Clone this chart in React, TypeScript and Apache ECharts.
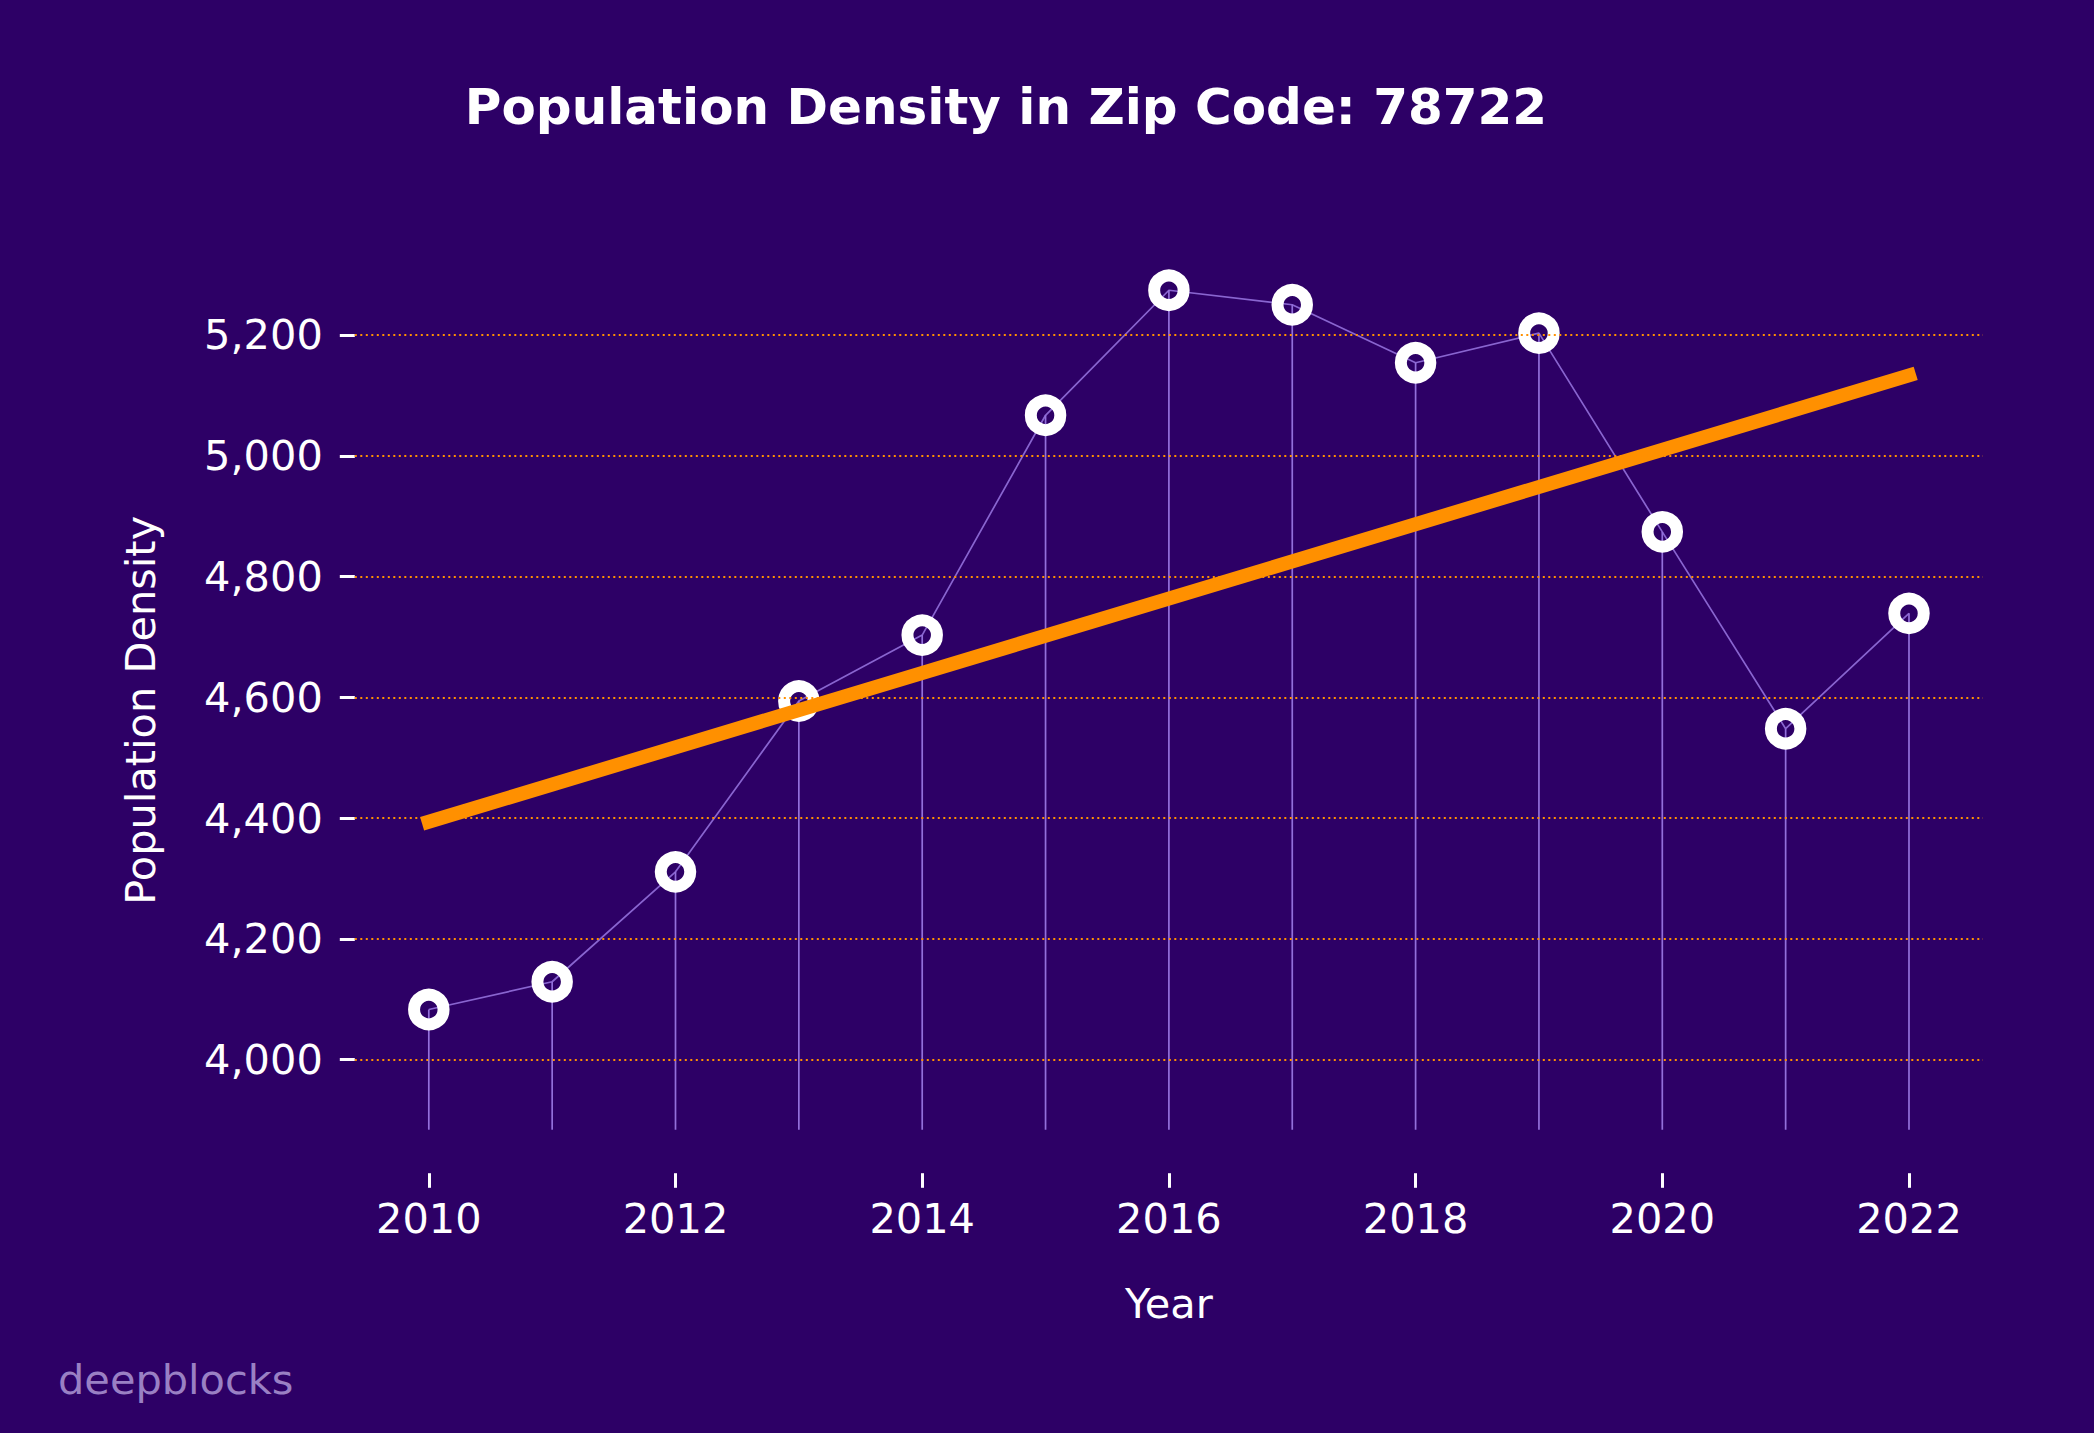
import React, { useEffect, useRef } from "react";
import * as echarts from "echarts";

const years = [2010, 2011, 2012, 2013, 2014, 2015, 2016, 2017, 2018, 2019, 2020, 2021, 2022];
const density = [4083, 4129, 4311, 4594, 4703, 5067, 5274, 5250, 5154, 5203, 4874, 4548, 4739];
const trendYears = [2010, 2022];
const trendValues = [4394, 5133];
const stemBase = 3884;
const xTicks = [2010, 2012, 2014, 2016, 2018, 2020, 2022];
const yTicks = [4000, 4200, 4400, 4600, 4800, 5000, 5200];
const xRange = [2009.4, 2022.6];
const yRange = [3812, 5345];

const BG = "#2d0066";
const ORANGE = "#ff9000";
const PURPLE = "#9370DB";
const FONT = "DejaVu Sans";

export default function App() {
  const ref = useRef<HTMLDivElement>(null);
  useEffect(() => {
    document.body.style.margin = "0";
    const chart = echarts.init(ref.current!, null, { renderer: "svg" });
    const points = years.map((y, i) => [y, density[i]]);
    const trend = trendYears.map((y, i) => [y, trendValues[i]]);
    const option: any = {
      animation: false,
      backgroundColor: BG,
      title: {
        text: "Population Density in Zip Code: 78722",
        left: 1006,
        top: 81.5,
        textAlign: "center",
        padding: 0,
        textStyle: { color: "#ffffff", fontSize: 50, fontWeight: "bold", fontFamily: FONT, lineHeight: 50 },
      },
      grid: { left: 354.8, top: 247.4, width: 1628.2, height: 925.8, containLabel: false, outerBoundsMode: "none" },
      xAxis: {
        type: "value",
        min: xRange[0],
        max: xRange[1],
        name: "Year",
        nameLocation: "middle",
        nameGap: 110,
        nameTextStyle: { color: "#ffffff", fontSize: 41.5, fontFamily: FONT, lineHeight: 41.5 },
        axisLine: { show: false },
        splitLine: { show: false },
        axisTick: { show: true, length: 14.6, lineStyle: { color: "#ffffff", width: 3 }, customValues: xTicks },
        axisLabel: {
          customValues: xTicks,
          margin: 25,
          color: "#ffffff",
          fontSize: 41.5,
          lineHeight: 41.5,
          fontFamily: FONT,
          formatter: (v: number) => String(v),
        },
      },
      yAxis: {
        type: "value",
        min: yRange[0],
        max: yRange[1],
        name: "Population Density",
        nameLocation: "middle",
        nameGap: 194,
        nameTextStyle: { color: "#ffffff", fontSize: 41.5, fontFamily: FONT, lineHeight: 41.5 },
        axisLine: { show: false },
        splitLine: { show: false },
        axisTick: { show: true, length: 15, lineStyle: { color: "#ffffff", width: 3 }, customValues: yTicks },
        axisLabel: {
          customValues: yTicks,
          margin: 32,
          color: "#ffffff",
          fontSize: 41.5,
          lineHeight: 41.5,
          fontFamily: FONT,
          formatter: (v: number) => v.toLocaleString("en-US"),
        },
      },
      series: [
        {
          type: "line",
          data: points,
          symbol: "none",
          lineStyle: { opacity: 0 },
          silent: true,
          z: 1,
          markLine: {
            silent: true,
            symbol: ["none", "none"],
            label: { show: false },
            lineStyle: { color: ORANGE, width: 2, type: [2, 3.5], opacity: 1 },
            emphasis: { disabled: true },
            data: yTicks.map((v) => ({ yAxis: v })),
          },
        },
        {
          type: "custom",
          data: points,
          z: 2,
          silent: true,
          encode: { x: 0, y: 1 },
          renderItem: (params: any, api: any) => {
            const x = api.value(0);
            const y = api.value(1);
            const top = api.coord([x, y]);
            const bottom = api.coord([x, stemBase]);
            return {
              type: "line",
              shape: { x1: top[0], y1: top[1], x2: bottom[0], y2: bottom[1] },
              style: { stroke: PURPLE, lineWidth: 1.7 },
            };
          },
        },
        {
          type: "line",
          data: points,
          z: 3,
          symbol: "circle",
          symbolSize: 29.5,
          lineStyle: { color: PURPLE, width: 1.7, opacity: 0.9 },
          itemStyle: { color: "rgba(0,0,0,0)", borderColor: "#ffffff", borderWidth: 12 },
          silent: true,
        },
        {
          type: "line",
          data: trend,
          z: 4,
          symbol: "none",
          lineStyle: { color: ORANGE, width: 14, cap: "square" },
          silent: true,
        },
      ],
      graphic: [
        {
          type: "text",
          left: 58,
          top: 1358,
          style: { text: "deepblocks", fill: "#9a80c4", font: `41.5px '${FONT}'` },
        },
      ],
    };
    chart.setOption(option);
    return () => chart.dispose();
  }, []);
  return <div ref={ref} style={{ position: "absolute", left: 0, top: 0, width: 2094, height: 1433 }} />;
}
